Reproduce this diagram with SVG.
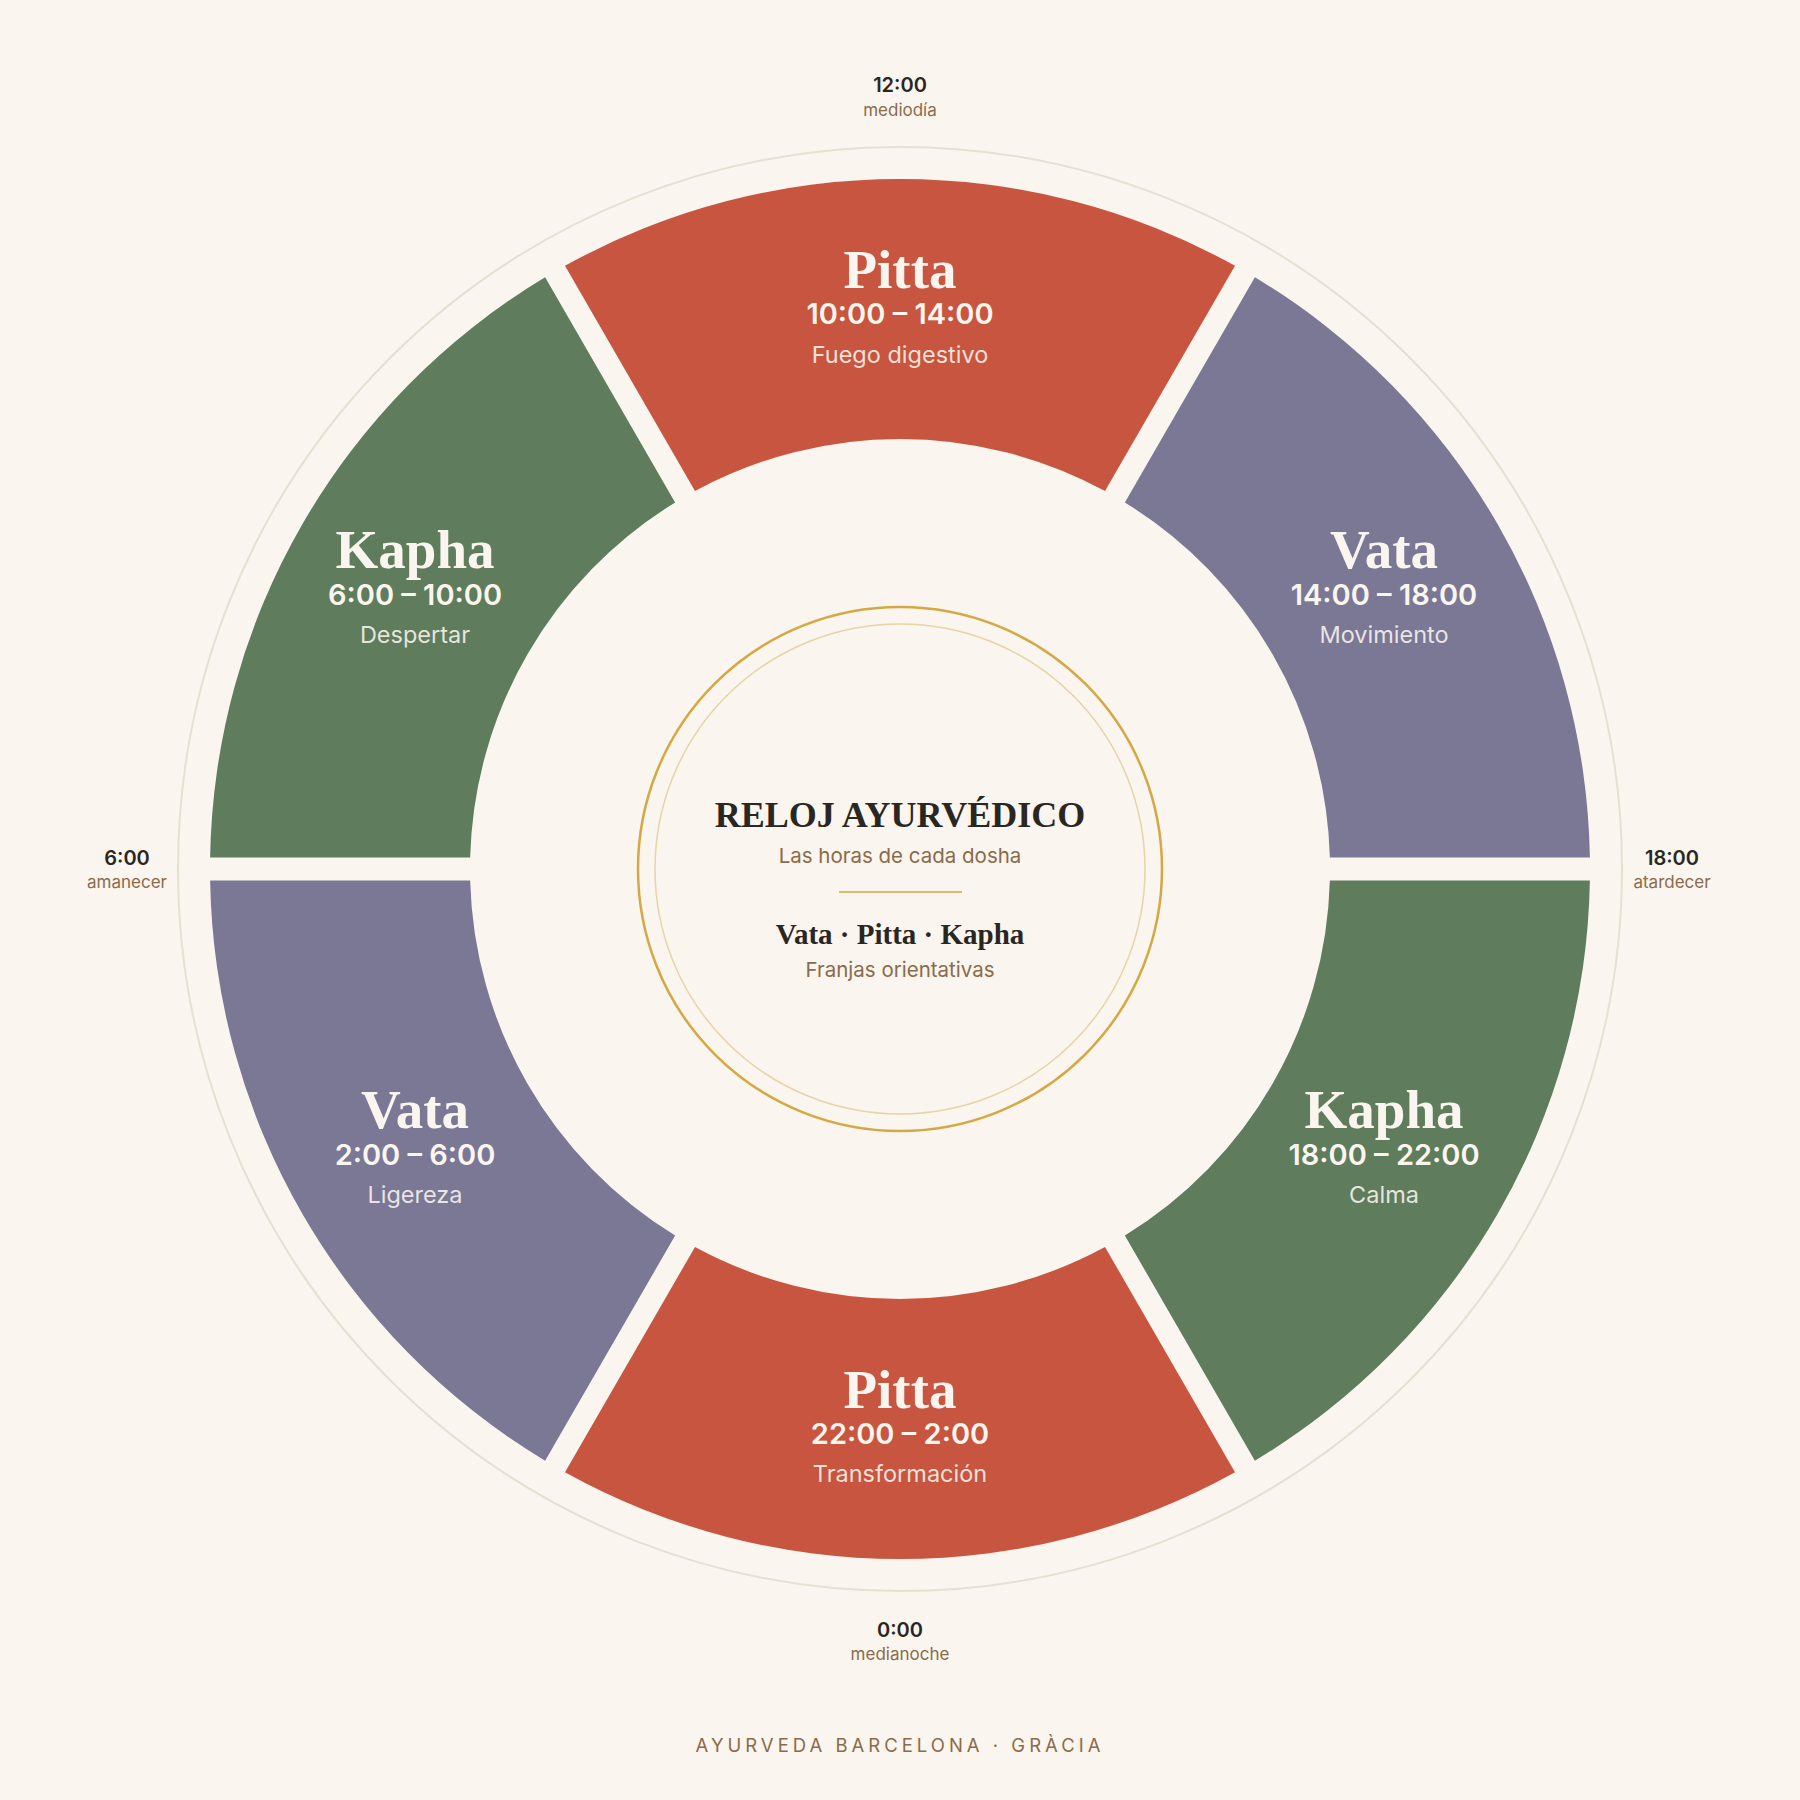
<svg xmlns="http://www.w3.org/2000/svg" width="1800" height="1800" viewBox="0 0 1800 1800">
<style>
.name{font-family:"Liberation Serif","DejaVu Serif",serif;font-weight:bold;font-size:55px;fill:#FAF5EE;text-anchor:middle}
.time{font-family:Inter,"Liberation Sans",sans-serif;font-weight:600;font-size:29px;fill:#FAF5EE;text-anchor:middle}
.desc{font-family:Inter,"Liberation Sans",sans-serif;font-size:23.5px;fill:#FAF5EE;fill-opacity:0.88;text-anchor:middle}
.hr{font-family:Inter,"Liberation Sans",sans-serif;font-weight:600;font-size:20px;fill:#2A2622;text-anchor:middle}
.hs{font-family:Inter,"Liberation Sans",sans-serif;font-size:17px;fill:#8B6B4A;text-anchor:middle}
.sub{font-family:Inter,"Liberation Sans",sans-serif;font-size:20.5px;fill:#8B6B4A;text-anchor:middle}
.ttl{font-family:"Liberation Serif","DejaVu Serif",serif;font-weight:bold;fill:#2A2622;text-anchor:middle}
.pitta{fill:#C8553F}.vata{fill:#7B7896}.kapha{fill:#5F7D5C}
</style>
<defs>
<path id="seg" d="M565,265.8 A690,690 0 0 1 1235,265.8 L1105,491 A430,430 0 0 0 695,491 Z"/>
</defs>
<rect width="1800" height="1800" fill="#FAF5EE"/>
<circle cx="900" cy="869" r="722" fill="none" stroke="#E6E0D2" stroke-width="2"/>
<g id="pitta-day"><use href="#seg" class="pitta"/><text class="name" x="900" y="288">Pitta</text><text class="time" x="900" y="324">10:00 – 14:00</text><text class="desc" x="900" y="363">Fuego digestivo</text></g>
<g id="vata-day"><use href="#seg" class="vata" transform="rotate(60 900 869)"/><text class="name" x="1384" y="568">Vata</text><text class="time" x="1384" y="605">14:00 – 18:00</text><text class="desc" x="1384" y="643">Movimiento</text></g>
<g id="kapha-night"><use href="#seg" class="kapha" transform="rotate(120 900 869)"/><text class="name" x="1384" y="1128">Kapha</text><text class="time" x="1384" y="1165">18:00 – 22:00</text><text class="desc" x="1384" y="1203">Calma</text></g>
<g id="pitta-night"><use href="#seg" class="pitta" transform="rotate(180 900 869)"/><text class="name" x="900" y="1408">Pitta</text><text class="time" x="900" y="1444">22:00 – 2:00</text><text class="desc" x="900" y="1482">Transformación</text></g>
<g id="vata-night"><use href="#seg" class="vata" transform="rotate(240 900 869)"/><text class="name" x="415" y="1128">Vata</text><text class="time" x="415" y="1165">2:00 – 6:00</text><text class="desc" x="415" y="1203">Ligereza</text></g>
<g id="kapha-day"><use href="#seg" class="kapha" transform="rotate(300 900 869)"/><text class="name" x="415" y="568">Kapha</text><text class="time" x="415" y="605">6:00 – 10:00</text><text class="desc" x="415" y="643">Despertar</text></g>
<g id="center">
<circle cx="900" cy="869" r="262" fill="none" stroke="#D4A843" stroke-width="2.5"/>
<circle cx="900" cy="869" r="245" fill="none" stroke="#E6D4A8" stroke-width="1.5"/>
<text class="ttl" x="900" y="827" font-size="36">RELOJ AYURVÉDICO</text>
<text class="sub" x="900" y="863">Las horas de cada dosha</text>
<line x1="839" y1="892" x2="962" y2="892" stroke="#D4A843" stroke-width="1.5"/>
<text class="ttl" x="900" y="944" font-size="29">Vata · Pitta · Kapha</text>
<text class="sub" x="900" y="977">Franjas orientativas</text>
</g>
<g id="hours">
<text class="hr" x="127" y="865">6:00</text><text class="hs" x="127" y="888">amanecer</text>
<text class="hr" x="900" y="92">12:00</text><text class="hs" x="900" y="116">mediodía</text>
<text class="hr" x="1672" y="865">18:00</text><text class="hs" x="1672" y="888">atardecer</text>
<text class="hr" x="900" y="1637">0:00</text><text class="hs" x="900" y="1660">medianoche</text>
</g>
<g id="connectors"/>
<text x="900" y="1752" text-anchor="middle" font-family="Inter,'Liberation Sans',sans-serif" font-size="18.5" letter-spacing="4" fill="#8B6B4A">AYURVEDA BARCELONA · GRÀCIA</text>
</svg>
